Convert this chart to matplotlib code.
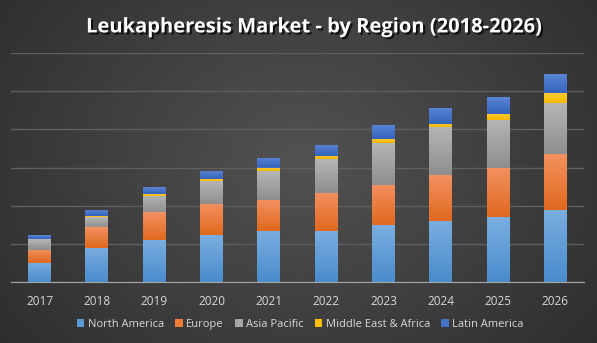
import numpy as np
import matplotlib
matplotlib.use('Agg')
import matplotlib.pyplot as plt
import matplotlib.patheffects as pe
from matplotlib.colors import LinearSegmentedColormap

# Datos (unidades relativas, 100 por linea de rejilla)
years = ['2017', '2018', '2019', '2020', '2021', '2022', '2023', '2024', '2025', '2026']
north_america = [50, 90, 111, 123, 134, 134, 149, 160, 170, 189]
europe = [35, 54, 73, 82, 82, 98, 105, 120, 129, 147]
asia_pacific = [27, 26, 42, 59, 75, 89, 110, 126, 126, 133]
middle_east_africa = [1.5, 2.6, 4.5, 5, 9, 10, 10, 8, 16, 26]
latin_america = [10, 16, 18, 21, 25, 29, 37, 42, 44, 50]

series = [
    ('North America', north_america, '#5b9bd5', '#7aaee0', '#4a8ccc'),
    ('Europe', europe, '#ed7d31', '#f39160', '#e0691e'),
    ('Asia Pacific', asia_pacific, '#a5a5a5', '#b5b5b5', '#8f8f8f'),
    ('Middle East & Africa', middle_east_africa, '#ffc000', '#ffcc33', '#f5b800'),
    ('Latin America', latin_america, '#4472c4', '#5b86d4', '#3562bd'),
]

plt.rcParams['font.family'] = ['Open Sans', 'DejaVu Sans']

fig = plt.figure(figsize=(5.97, 3.43), dpi=100)

# Fondo con degradado radial
bg = fig.add_axes([0, 0, 1, 1], zorder=-10)
yy, xx = np.mgrid[0:343, 0:597]
r = np.sqrt(((xx - 300) / 420.0) ** 2 + ((yy - 160) / 330.0) ** 2)
r = np.clip(r, 0, 1)
bg_cmap = LinearSegmentedColormap.from_list('bg', ['#525252', '#2a2a2a'])
bg.imshow(r, cmap=bg_cmap, aspect='auto', extent=[0, 1, 0, 1], vmin=0, vmax=1)
bg.set_axis_off()

ax = fig.add_axes([11 / 597, 61 / 343, 573 / 597, 229 / 343])
ax.patch.set_alpha(0)

x = np.arange(len(years))
bottom = np.zeros(len(years))
grad = np.linspace(0, 1, 64).reshape(-1, 1)
for name, vals, col, top_col, bot_col in series:
    vals = np.array(vals, dtype=float)
    bars = ax.bar(x, vals, width=0.4, bottom=bottom, color=col, label=name, zorder=3)
    cm = LinearSegmentedColormap.from_list(name, [bot_col, top_col])
    for b in bars:
        x0, y0 = b.get_x(), b.get_y()
        im = ax.imshow(grad, cmap=cm, aspect='auto', origin='lower',
                       extent=[x0, x0 + b.get_width(), y0, y0 + b.get_height()], zorder=4)
        im.set_clip_path(b)
    bottom += vals

ax.set_xlim(-0.5, len(years) - 0.5)
ax.set_ylim(0, 600)
ax.set_yticks(np.arange(0, 601, 100))
ax.yaxis.grid(True, color='#5f5f5f', linewidth=1, zorder=0)
ax.set_axisbelow(True)
ax.tick_params(axis='y', left=False, labelleft=False)
ax.tick_params(axis='x', bottom=False, colors='#d9d9d9', labelsize=8.5, pad=6)
ax.set_xticks(x)
ax.set_xticklabels(years)
for s in ['top', 'left', 'right']:
    ax.spines[s].set_visible(False)
ax.spines['bottom'].set_color('#a6a6a6')
ax.spines['bottom'].set_zorder(5)

fig.text(0.526, 0.92, 'Leukapheresis Market - by Region (2018-2026)', color='white',
         fontsize=14.5, fontweight='bold', ha='center', va='center',
         path_effects=[pe.withSimplePatchShadow(offset=(1.5, -1.5), shadow_rgbFace='black', alpha=0.7)])

leg = fig.legend(loc='center', bbox_to_anchor=(0.503, 0.055), ncol=5, frameon=False,
                 fontsize=8, labelcolor='#d9d9d9', handlelength=0.7, handleheight=0.7,
                 handletextpad=0.3, columnspacing=1.0)

fig.savefig('out.png', dpi=100)
